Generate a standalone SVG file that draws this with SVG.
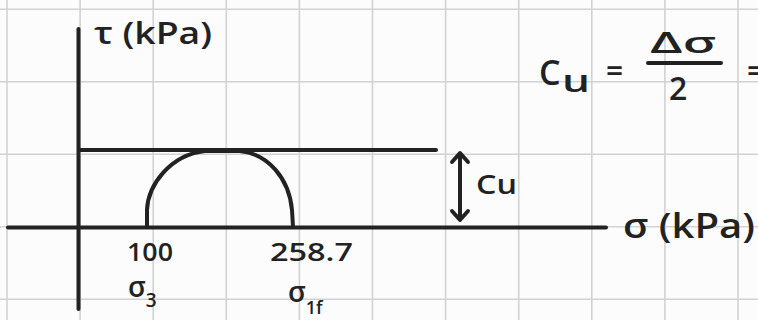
<svg xmlns="http://www.w3.org/2000/svg" width="758" height="320" viewBox="0 0 758 320">
<style>
.grid{stroke:#d2d2d2;stroke-width:1.6}
.ink{stroke:#222;stroke-width:4;stroke-linecap:round;stroke-linejoin:round;fill:none}
.t{font-family:"Open Sans","DejaVu Sans",sans-serif;fill:#222;font-weight:600}
</style>
<rect width="758" height="320" fill="#fcfcfc"/>
<g id="grid" class="grid">
<line x1="7" y1="0" x2="7" y2="320"/>
<line x1="80.1" y1="0" x2="80.1" y2="320"/>
<line x1="153.2" y1="0" x2="153.2" y2="320"/>
<line x1="226.3" y1="0" x2="226.3" y2="320"/>
<line x1="299.4" y1="0" x2="299.4" y2="320"/>
<line x1="372.5" y1="0" x2="372.5" y2="320"/>
<line x1="445.6" y1="0" x2="445.6" y2="320"/>
<line x1="518.7" y1="0" x2="518.7" y2="320"/>
<line x1="591.8" y1="0" x2="591.8" y2="320"/>
<line x1="664.9" y1="0" x2="664.9" y2="320"/>
<line x1="738" y1="0" x2="738" y2="320"/>
<line x1="0" y1="9.3" x2="758" y2="9.3"/>
<line x1="0" y1="81.8" x2="758" y2="81.8"/>
<line x1="0" y1="154.3" x2="758" y2="154.3"/>
<line x1="0" y1="226.8" x2="758" y2="226.8"/>
<line x1="0" y1="299.3" x2="758" y2="299.3"/>
</g>
<g id="tau-axis">
<path class="ink" d="M78.5,29 L78.5,309"/>
<text class="t" x="94" y="44" font-size="30" textLength="118" lengthAdjust="spacingAndGlyphs">τ (kPa)</text>
</g>
<g id="sigma-axis">
<path class="ink" d="M8,227.5 L606,227.5"/>
<text class="t" x="623" y="238" font-size="34" textLength="132" lengthAdjust="spacingAndGlyphs">σ (kPa)</text>
</g>
<g id="cu-line">
<path class="ink" d="M79,150 L436,150"/>
</g>
<g id="mohr-circle">
<path class="ink" d="M147,227 L147,210 C148,185 170,155 205,151 L240,151 C268,154 289,178 292,210 L293,227"/>
</g>
<g id="sigma3">
<text class="t" x="127" y="261" font-size="26" textLength="46" lengthAdjust="spacingAndGlyphs">100</text>
<text class="t" x="128" y="297" font-size="28">σ<tspan font-size="19" dy="10">3</tspan></text>
</g>
<g id="sigma1f">
<text class="t" x="270" y="261" font-size="26" textLength="83" lengthAdjust="spacingAndGlyphs">258.7</text>
<text class="t" x="288" y="302" font-size="28">σ<tspan font-size="18" dy="12">1f</tspan></text>
</g>
<g id="formula">
<text class="t" x="539" y="85" font-size="34">C</text>
<text class="t" x="562" y="92" font-size="30" textLength="28" lengthAdjust="spacingAndGlyphs">u</text>
<text class="t" x="606" y="82" font-size="30">=</text>
<text class="t" x="650" y="53" font-size="28" textLength="66" lengthAdjust="spacingAndGlyphs">Δσ</text>
<path class="ink" d="M648,63 L721,63"/>
<text class="t" x="669" y="100" font-size="32">2</text>
<text class="t" x="747" y="82" font-size="30">=</text>
</g>
<g id="connectors">
<path class="ink" d="M460,155 L460,218 M452,162 L460,153 L468,162 M452,211 L460,220 L468,211"/>
<text class="t" x="476" y="194" font-size="27" textLength="41" lengthAdjust="spacingAndGlyphs">Cu</text>
</g>
</svg>
